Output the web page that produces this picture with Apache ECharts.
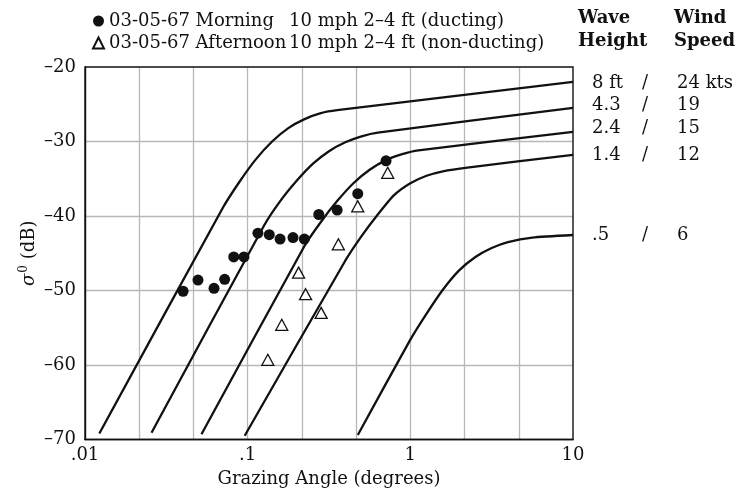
<!DOCTYPE html>
<html>
<head>
<meta charset="utf-8">
<script src="https://cdn.jsdelivr.net/npm/echarts@6/dist/echarts.min.js"></script>
<style>html,body{margin:0;padding:0;background:#fff}#c{width:735px;height:495px}</style>
</head>
<body>
<div id="c"></div>
<script>
// ---- data ----
const morningName = '03-05-67 Morning|10 mph 2–4 ft (ducting)';
const afternoonName = '03-05-67 Afternoon|10 mph 2–4 ft (non-ducting)';
const morningX = [0.0401,0.0495,0.0621,0.0722,0.0821,0.0949,0.1156,0.1358,0.1582,0.190,0.223,0.2737,0.355,0.475,0.709];
const morningY = [-50.1,-48.6,-49.7,-48.5,-45.5,-45.5,-42.3,-42.5,-43.1,-42.9,-43.1,-39.8,-39.2,-37.0,-32.6];
const afternoonX = [0.133,0.162,0.2056,0.227,0.283,0.361,0.475,0.726];
const afternoonY = [-59.3,-54.6,-47.6,-50.5,-53.0,-43.8,-38.7,-34.2];

// model curves (wave height / wind speed)
const curve8X = [0.01225,0.0708,0.0891,0.1122,0.1413,0.1778,0.2239,0.2818,0.3548,10];
const curve8Y = [-69.2,-38.8,-35.4,-32.4,-30.0,-28.2,-27.0,-26.2,-25.8,-22.0];
const curve43X = [0.02564,0.1259,0.1585,0.1995,0.2512,0.3162,0.3981,0.5012,0.631,10];
const curve43Y = [-69.1,-41.3,-38.0,-35.3,-33.0,-31.3,-30.1,-29.3,-28.8,-25.5];
const curve24X = [0.052,0.2239,0.2818,0.3548,0.4467,0.5623,0.7079,0.8913,1.122,10];
const curve24Y = [-69.3,-44.0,-40.8,-38.0,-35.6,-33.8,-32.5,-31.7,-31.2,-28.7];
const curve14X = [0.0959,0.3981,0.5012,0.631,0.7943,1.0,1.259,1.585,2.239,10];
const curve14Y = [-69.5,-46.0,-42.7,-39.8,-37.2,-35.6,-34.6,-34.0,-33.5,-31.8];
const curve05X = [0.4753,1.0,1.259,1.585,1.995,2.512,3.162,3.981,5.623,10];
const curve05Y = [-69.4,-56.6,-53.1,-49.9,-47.3,-45.5,-44.3,-43.5,-42.9,-42.55];

const xTickLabels = {'0.01':'.01','0.1':'.1','1':'1','10':'10'};
const tableHead = [['Wave','Wind'],['Height','Speed']];
const tableRows = [['8 ft','24 kts'],['4.3','19'],['2.4','15'],['1.4','12'],['.5','6']];

// ---- chart ----
const FONT = 'DejaVu Serif';
const zip = (xs, ys) => xs.map((x, i) => [x, ys[i]]);
const curves = [[curve8X,curve8Y],[curve43X,curve43Y],[curve24X,curve24Y],[curve14X,curve14Y],[curve05X,curve05Y]];

const lineSeries = curves.map(c => ({
  type: 'line', data: zip(c[0], c[1]), xAxisIndex: 0, yAxisIndex: 0,
  showSymbol: false, smooth: 0.2,
  lineStyle: {color: '#111', width: 2.3}, z: 3, silent: true
}));

const rowYs = [85, 107, 130, 157, 237];
const graphics = [];
tableHead.forEach((r, i) => {
  const y = i === 0 ? 20 : 43;
  graphics.push({type:'text', left: 578, top: y - 11, style:{text:r[0], font:'bold 18px "DejaVu Serif"', fill:'#111'}});
  graphics.push({type:'text', left: 674, top: y - 11, style:{text:r[1], font:'bold 18px "DejaVu Serif"', fill:'#111'}});
});
tableRows.forEach((r, i) => {
  const y = rowYs[i];
  graphics.push({type:'text', left: 592, top: y - 11, style:{text:r[0], font:'18px "DejaVu Serif"', fill:'#111'}});
  graphics.push({type:'text', left: 642, top: y - 11, style:{text:'/', font:'18px "DejaVu Serif"', fill:'#111'}});
  graphics.push({type:'text', left: 677, top: y - 11, style:{text:r[1], font:'18px "DejaVu Serif"', fill:'#111'}});
});

const chart = echarts.init(document.getElementById('c'), null, {renderer: 'canvas'});
chart.setOption({
  animation: false,
  backgroundColor: '#fff',
  textStyle: {fontFamily: FONT},
  grid: {left: 85, top: 67, width: 488, height: 372.5, show: true, borderColor: '#111', borderWidth: 1.4, backgroundColor: 'transparent', z: 4},
  legend: {
    orient: 'vertical', left: 87, top: 7, itemWidth: 11, itemHeight: 11, itemGap: 4,
    data: [morningName, afternoonName],
    formatter: n => { const p = n.split('|'); return '{a|' + p[0] + '}{b|' + p[1] + '}'; },
    textStyle: {fontFamily: FONT, fontSize: 18, color: '#111', rich: {
      a: {fontFamily: FONT, fontSize: 18, color: '#111', width: 180, lineHeight: 20},
      b: {fontFamily: FONT, fontSize: 18, color: '#111', lineHeight: 20}
    }}
  },
  xAxis: [
    {type: 'log', logBase: 10, min: 0.01, max: 10,
     axisLine: {show: true, lineStyle: {color: '#111', width: 1.4}}, axisTick: {show: false},
     splitLine: {show: false},
     axisLabel: {fontFamily: FONT, fontSize: 18, color: '#111', margin: 7,
       formatter: v => { const k = String(Number(v.toPrecision(3))); return xTickLabels[k] !== undefined ? xTickLabels[k] : k; }},
     name: 'Grazing Angle (degrees)', nameLocation: 'middle', nameGap: 31, nameMoveOverlap: false,
     nameTextStyle: {fontFamily: FONT, fontSize: 18, color: '#111'}, z: 5},
    {type: 'value', min: 0, max: 9, interval: 1, show: true, position: 'bottom',
     axisLine: {show: false}, axisTick: {show: false}, axisLabel: {show: false},
     splitLine: {show: true, showMinLine: false, showMaxLine: false, lineStyle: {color: '#b8b8b8', width: 1.3}}}
  ],
  yAxis: {
    type: 'value', min: -70, max: -20, interval: 10,
    axisLine: {show: true, lineStyle: {color: '#111', width: 1.4}}, axisTick: {show: false},
    splitLine: {show: true, showMinLine: false, showMaxLine: false, lineStyle: {color: '#b8b8b8', width: 1.3}},
    axisLabel: {fontFamily: FONT, fontSize: 18, color: '#111', margin: 9,
      formatter: v => (v < 0 ? '–' + Math.abs(v) : String(v))},
    name: '{s|σ}{sup|0} (dB)', nameLocation: 'middle', nameGap: 45, nameRotate: 90, nameMoveOverlap: false,
    nameTextStyle: {fontFamily: FONT, fontSize: 18, color: '#111', rich: {
      s: {fontFamily: FONT, fontSize: 18, fontStyle: 'italic', color: '#111'},
      sup: {fontFamily: FONT, fontSize: 12, color: '#111', verticalAlign: 'bottom', padding: [0, 0, 10, 1]}
    }}
  },
  graphic: graphics,
  series: lineSeries.concat([
    {name: morningName, type: 'scatter', data: zip(morningX, morningY), symbol: 'circle', symbolSize: 11,
     itemStyle: {color: '#111', opacity: 1}, z: 6},
    {name: afternoonName, type: 'scatter', data: zip(afternoonX, afternoonY), symbol: 'triangle', symbolSize: [12, 11],
     itemStyle: {color: '#fff', borderColor: '#111', borderWidth: 1.3, opacity: 1}, z: 6}
  ])
});
</script>
</body>
</html>
